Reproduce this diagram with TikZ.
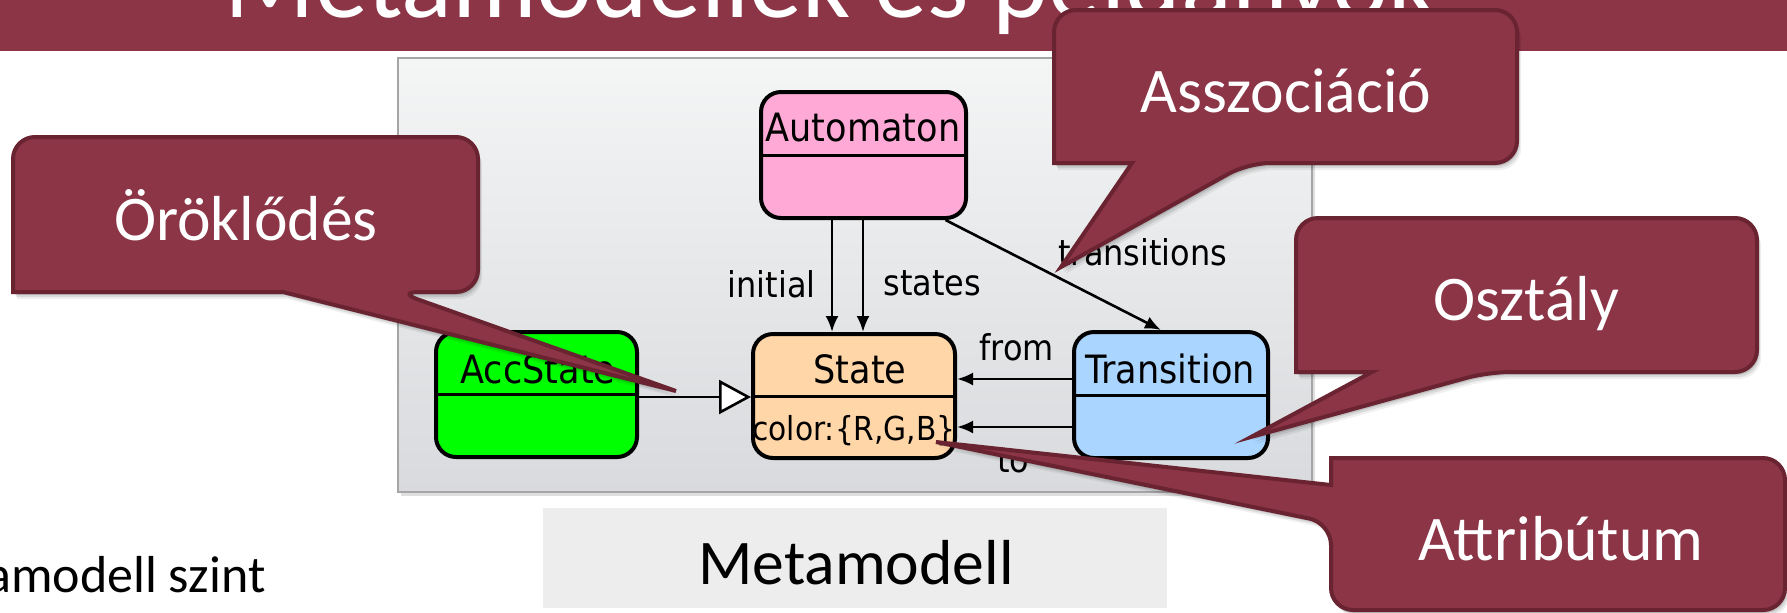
\documentclass[tikz,border=0pt]{standalone}
\usepackage{fontspec}
\setmainfont{Carlito}
\newfontfamily\umlfont[FakeStretch=0.9]{DejaVu Sans}
\usetikzlibrary{arrows.meta,calc,shadows}

\definecolor{slide}{RGB}{139,53,71}
\definecolor{slideedge}{RGB}{106,35,49}
\definecolor{panelTop}{RGB}{244,245,245}
\definecolor{panelBot}{RGB}{216,218,221}
\definecolor{panelEdge}{RGB}{165,165,165}
\definecolor{autoPink}{RGB}{255,170,214}
\definecolor{statePeach}{RGB}{255,214,168}
\definecolor{accGreen}{RGB}{0,255,0}
\definecolor{transBlue}{RGB}{170,213,255}
\definecolor{capGray}{RGB}{237,237,237}

% speech bubble with its pointer leaving the bottom edge
% #1 #2 #3 #4 = box x1 y1 x2 y2, #5 #6 = pointer base on the bottom edge, #7 #8 = tip
\newcommand\bubbleB[8]{%
  \foreach \s/\o in {7/0.06,5/0.09,3/0.12}{%
    \fill[black,opacity=\o,shift={(0.6*\s,\s)}]
      (#7,#8) -- (#5,#4) -- (#1,#4) [rounded corners=11pt] -- (#1,#2) -- (#3,#2)
      -- (#3,#4) -- (#6,#4) [sharp corners] -- cycle;}
  \filldraw[callout]
      (#7,#8) -- (#5,#4) -- (#1,#4) [rounded corners=11pt] -- (#1,#2) -- (#3,#2)
      -- (#3,#4) -- (#6,#4) [sharp corners] -- cycle;}
% speech bubble with its pointer leaving the left edge
% #5 #6 = pointer base on the left edge (y values)
\newcommand\bubbleL[8]{%
  \foreach \s/\o in {7/0.06,5/0.09,3/0.12}{%
    \fill[black,opacity=\o,shift={(0.6*\s,\s)}]
      (#7,#8) -- (#1,#5) -- (#1,#2) [rounded corners=11pt] -- (#3,#2) -- (#3,#4)
      -- (#1,#4) -- (#1,#6) [sharp corners] -- cycle;}
  \filldraw[callout]
      (#7,#8) -- (#1,#5) -- (#1,#2) [rounded corners=11pt] -- (#3,#2) -- (#3,#4)
      -- (#1,#4) -- (#1,#6) [sharp corners] -- cycle;}

\begin{document}
\begin{tikzpicture}[x=0.5pt,y=-0.5pt,
  cls/.style={draw=black, line width=2pt, rounded corners=10pt, inner sep=0pt},
  clsname/.style={font=\umlfont\fontsize{19.5}{22}\selectfont, inner sep=0pt, anchor=base},
  attr/.style={font=\umlfont\fontsize{16.5}{19}\selectfont, inner sep=0pt, anchor=base},
  role/.style={font=\umlfont\fontsize{17.75}{20}\selectfont, inner sep=0pt},
  divider/.style={line width=1.5pt},
  assoc/.style={line width=1.3pt, -{Latex[length=8pt,width=6.5pt]}},
  inherit/.style={line width=1.3pt, -{Triangle[length=16pt,width=17pt,fill=white]}},
  callout/.style={fill=slide, draw=slideedge, line width=2pt},
  callouttext/.style={text=white, font=\fontsize{31.8}{36}\selectfont, inner sep=0pt, anchor=base}]

\useasboundingbox (0,0) rectangle (1787,612);
\clip (0,0) rectangle (1787,612);
\fill[white] (0,0) rectangle (1787,612);

% slide title bar
\fill[slide] (0,0) rectangle (1787,51);
\node[anchor=base west, text=white, inner sep=0pt, font=\fontsize{53}{60}\selectfont]
  (title) at (224,17) {Metamodellek és példányok};

% diagram canvas
\node[draw=panelEdge, line width=1pt, top color=panelTop, bottom color=panelBot,
  minimum width=457pt, minimum height=217pt, inner sep=0pt,
  drop shadow={shadow xshift=1.5pt, shadow yshift=-2pt, opacity=0.25}]
  (panel) at (855,275) {};

% caption under the canvas
\node[fill=capGray, minimum width=312pt, minimum height=50pt, inner sep=0pt]
  (capbox) at (855,558) {};
\node[anchor=base, inner sep=0pt, font=\fontsize{31.8}{36}\selectfont]
  (caption) at (856,584) {Metamodell};

% level text on the left
\node[anchor=base east, inner sep=0pt, font=\fontsize{26}{30}\selectfont]
  (level) at (266,592) {Metamodell szint};

% classes
\node[cls, fill=autoPink, minimum width=102.5pt, minimum height=63pt] (auto) at (863.5,155) {};
\node[cls, fill=statePeach, minimum width=101pt, minimum height=62pt] (state) at (854,396) {};
\node[cls, fill=accGreen, minimum width=100.5pt, minimum height=62.5pt] (acc) at (536.5,394.5) {};
\node[cls, fill=transBlue, minimum width=97pt, minimum height=63pt] (trans) at (1171,395) {};

\draw[divider] (auto.west) -- (auto.east);
\draw[divider] (state.west) -- (state.east);
\draw[divider] (acc.west) -- (acc.east);
\draw[divider] (trans.west) -- (trans.east);

\node[clsname] (autoname) at (863,141) {Automaton};
\node[clsname] (statename) at (860,383) {State};
\node[clsname] (accname) at (538,383) {AccState};
\node[clsname] (transname) at (1170,383) {Transition};
\node[attr] (stateattr) at (854,440) {color:\{R,G,B\}};

% references and inheritance
\coordinate (xinit) at (832,0);
\coordinate (xstates) at (863,0);
\coordinate (yfrom) at (0,379);
\coordinate (yto) at (0,427);
\coordinate (yinh) at (0,397);

\draw[assoc] (auto.south -| xinit) -- (state.north -| xinit);
\draw[assoc] (auto.south -| xstates) -- (state.north -| xstates);
\draw[assoc] ($(auto.south)+(82,0)$) -- ($(trans.north)+(-10,0)$);
\draw[assoc] (trans.west |- yfrom) -- (state.east |- yfrom);
\draw[assoc] (trans.west |- yto) -- (state.east |- yto);
\draw[inherit] (acc.east |- yinh) -- (state.west |- yinh);

\node[role, anchor=base east] (linit) at (816,297) {initial};
\node[role, anchor=base west] (lstates) at (883,295) {states};
\node[role, anchor=base west] (ltrans) at (1058,265) {transitions};
\node[role, anchor=base west] (lfrom) at (979,360) {from};
\node[role, anchor=base west] (lto) at (997,472) {to};

% explanatory callouts
\bubbleB{13}{137}{478}{292}{283}{397}{676}{391}
\node[callouttext] (tinh) at (246,240) {Öröklődés};

\bubbleB{1054}{10}{1517}{163}{1132}{1248}{1061}{267}
\node[callouttext] (tassoc) at (1286,112) {Asszociáció};

\bubbleB{1296}{218}{1757}{372}{1372}{1488}{1251}{437}
\node[callouttext] (tclass) at (1526,320) {Osztály};

\bubbleL{1331}{458}{1785}{610}{485}{523}{936}{442}
\node[callouttext] (tattr) at (1561,560) {Attribútum};

\end{tikzpicture}
\end{document}
